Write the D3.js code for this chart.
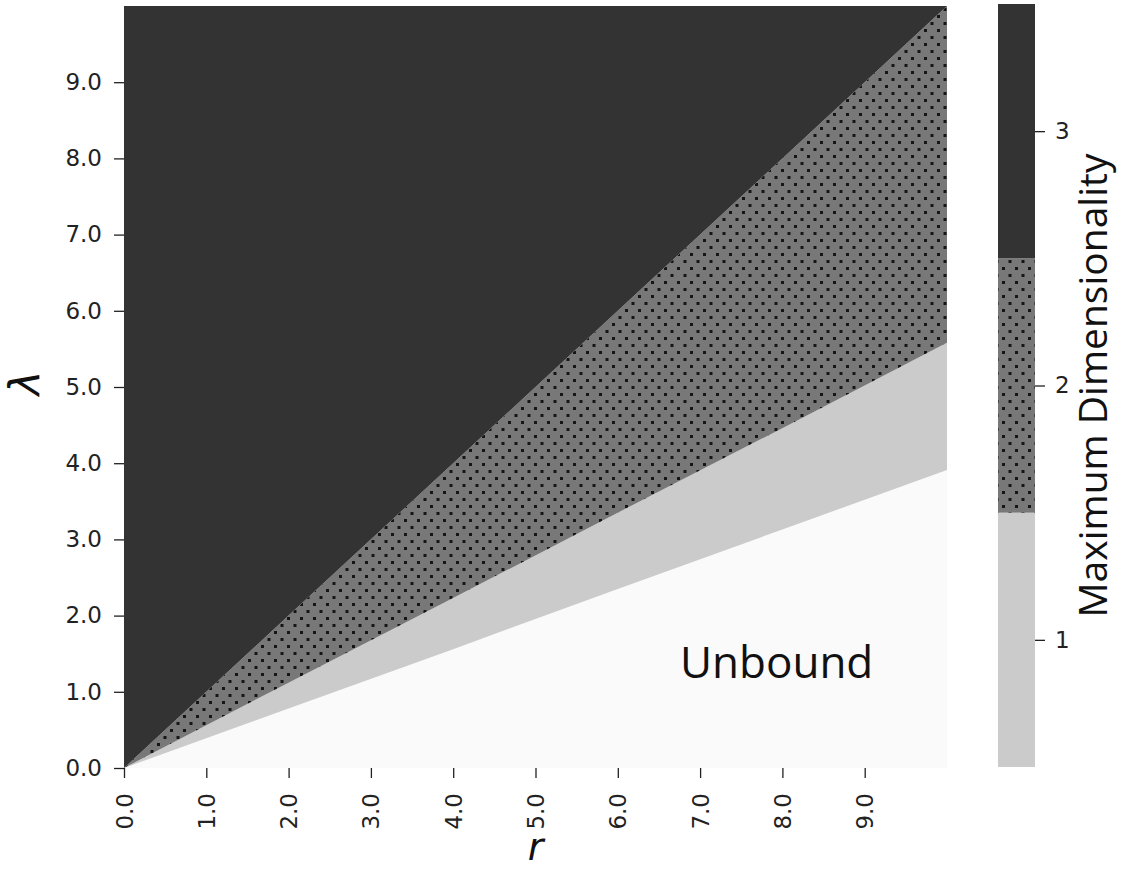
<!DOCTYPE html>
<html>
  <head>
    <meta charset="utf-8" />
    <script src="https://cdn.jsdelivr.net/npm/d3@7/dist/d3.min.js"></script>
    <style>
      body { margin: 0; background: #fff; }
    </style>
  </head>
  <body>
    <svg width="1121" height="871" id="mainsvg"></svg>
    <script>
      const rValues = [0, 2, 4, 6, 8, 10];
      const boundUpper = [0, 2, 4, 6, 8, 10]; // 3 -> 2
      const boundMiddle = [0, 1.12, 2.23, 3.35, 4.46, 5.58]; // 2 -> 1
      const boundLower = [0, 0.78, 1.56, 2.35, 3.13, 3.91]; // 1 -> unbound
      const lambdaMax = 10;
      const tickValues = [0, 1, 2, 3, 4, 5, 6, 7, 8, 9];
      const dims = [1, 2, 3];
      const dimColors = ["#cbcbcb", "url(#dots)", "#333333"];

      const svg = d3.select("#mainsvg");
      const margin = { top: 6, left: 124, right: 174, bottom: 103 };
      const width = +svg.attr("width");
      const height = +svg.attr("height");

      const x = d3.scaleLinear().domain([0, 10]).range([margin.left, width - margin.right]);
      const y = d3.scaleLinear().domain([0, lambdaMax]).range([height - margin.bottom, margin.top]);

      // dotted hatch for the 2-d region
      const defs = svg.append("defs");
      const pat = defs.append("pattern")
        .attr("id", "dots")
        .attr("width", 13).attr("height", 14)
        .attr("patternUnits", "userSpaceOnUse");
      pat.append("rect").attr("width", 13).attr("height", 14).attr("fill", "#787878");
      pat.append("rect").attr("x", 1).attr("y", 1).attr("width", 3).attr("height", 3).attr("fill", "#151515");
      pat.append("rect").attr("x", 7.5).attr("y", 8).attr("width", 3).attr("height", 3).attr("fill", "#151515");

      const rows = rValues.map((r, i) => ({
        r: r,
        zero: 0,
        lower: boundLower[i],
        middle: boundMiddle[i],
        upper: boundUpper[i],
        top: lambdaMax,
      }));

      const regions = [
        { lo: "zero", hi: "lower", fill: "#fafafa" },
        { lo: "lower", hi: "middle", fill: dimColors[0] },
        { lo: "middle", hi: "upper", fill: dimColors[1] },
        { lo: "upper", hi: "top", fill: dimColors[2] },
      ];

      const g = svg.append("g");
      regions.forEach((reg) => {
        const area = d3.area()
          .x((d) => x(d.r))
          .y0((d) => y(d[reg.lo]))
          .y1((d) => y(d[reg.hi]));
        g.append("path").datum(rows).attr("d", area).attr("fill", reg.fill);
      });

      g.append("text")
        .text("Unbound")
        .attr("x", x(7.93))
        .attr("y", y(1.18))
        .attr("text-anchor", "middle")
        .attr("font-family", "Open Sans")
        .attr("font-size", 44)
        .attr("fill", "#111");

      // axes
      const yAxis = d3.axisLeft(y).tickValues(tickValues).tickFormat(d3.format(".1f")).tickSize(10).tickPadding(12);
      const xAxis = d3.axisBottom(x).tickValues(tickValues).tickFormat(d3.format(".1f")).tickSize(10);

      const yg = svg.append("g").attr("transform", `translate(${margin.left},0)`).call(yAxis);
      const xg = svg.append("g").attr("transform", `translate(0,${height - margin.bottom})`).call(xAxis);
      [yg, xg].forEach((a) => {
        a.select(".domain").remove();
        a.selectAll(".tick line").attr("stroke", "#222").attr("stroke-width", 1.3);
        a.selectAll(".tick text").attr("font-family", "DejaVu Sans").attr("font-size", 23).attr("fill", "#222");
      });
      xg.selectAll(".tick text")
        .attr("y", 0)
        .attr("x", -25)
        .attr("dy", "0.35em")
        .attr("transform", "rotate(-90)")
        .style("text-anchor", "end");

      svg.append("text")
        .text("λ")
        .attr("transform", `translate(40,${y(5.05)}) rotate(-90)`)
        .attr("text-anchor", "middle")
        .attr("font-family", "DejaVu Sans")
        .attr("font-style", "italic")
        .attr("font-size", 42)
        .attr("fill", "#111");

      svg.append("text")
        .text("r")
        .attr("x", x(5))
        .attr("y", 860)
        .attr("text-anchor", "middle")
        .attr("font-family", "DejaVu Sans")
        .attr("font-style", "italic")
        .attr("font-size", 38)
        .attr("fill", "#111");

      // colorbar
      const cb = d3.scaleLinear().domain([0.5, 3.5]).range([767, 4]);
      const cbX = 998, cbW = 37;
      dims.forEach((d, i) => {
        svg.append("rect")
          .attr("x", cbX)
          .attr("y", cb(d + 0.5))
          .attr("width", cbW)
          .attr("height", cb(d - 0.5) - cb(d + 0.5))
          .attr("fill", dimColors[i]);
      });
      const cbAxis = d3.axisRight(cb).tickValues(dims).tickFormat(d3.format("d")).tickSize(10).tickPadding(10);
      const cg = svg.append("g").attr("transform", `translate(${cbX + cbW},0)`).call(cbAxis);
      cg.select(".domain").remove();
      cg.selectAll(".tick line").attr("stroke", "#222").attr("stroke-width", 1.3);
      cg.selectAll(".tick text").attr("font-family", "DejaVu Sans").attr("font-size", 23).attr("fill", "#222");

      svg.append("text")
        .text("Maximum Dimensionality")
        .attr("transform", `translate(1107,${cb(2)}) rotate(-90)`)
        .attr("text-anchor", "middle")
        .attr("font-family", "Open Sans")
        .attr("font-size", 39)
        .attr("fill", "#111");
    </script>
  </body>
</html>
